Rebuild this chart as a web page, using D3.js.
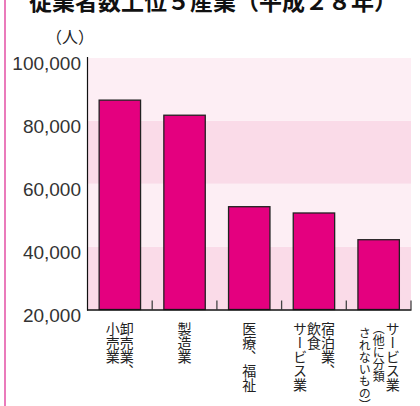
<!DOCTYPE html>
<html>
<head>
<meta charset="utf-8">
<script src="https://cdn.jsdelivr.net/npm/d3@7"></script>
<style>
  body { margin: 0; background: #fff; }
  svg { display: block; font-family: "Noto Sans CJK JP", "Noto Sans", sans-serif; }
</style>
</head>
<body>
<svg width="420" height="406"></svg>
<script>
// data
const categories = ['卸売業、小売業', '製造業', '医療、福祉', '宿泊業、飲食サービス業', 'サービス業（他に分類されないもの）'];
const values = [86600, 81800, 52700, 50700, 42200];
// vertical label columns, right to left
const labelColumns = [
    ['卸売業、', '小売業'],
    ['製造業'],
    ['医療、福祉'],
    ['宿泊業、', '飲食', 'サービス業'],
    ['サービス業', '（他に分類', 'されないもの）']
];
const tickValues = [20000, 40000, 60000, 80000, 100000];
const tickLabels = ['20,000', '40,000', '60,000', '80,000', '100,000'];

function whenLoaded(){
    const svg = d3.select('svg');
    const width = +svg.attr('width');
    const height = +svg.attr('height');

    const left = 87.5, right = 411, top = 58, bottom = 309.5;

    const yScale = d3.scaleLinear()
        .domain([20000, 100000])
        .range([bottom, top]);

    const slot = d3.scaleBand()
        .domain(categories)
        .range([left, right]);

    const xScale = d3.scaleBand()
        .domain(categories)
        .range([left, right])
        .paddingInner(0.36)
        .paddingOuter(0.18);

    // pink side rule
    svg.append('rect')
        .attr('x', 4).attr('y', 0)
        .attr('width', 2).attr('height', height)
        .attr('fill', '#ea7bbb');

    // title (cut off at top)
    svg.append('text')
        .attr('x', 213)
        .attr('y', 10)
        .attr('text-anchor', 'middle')
        .attr('font-size', 23)
        .attr('font-weight', 'bold')
        .attr('fill', '#111')
        .text('従業者数上位５産業（平成２８年）');

    svg.append('text')
        .attr('x', 70)
        .attr('y', 43)
        .attr('text-anchor', 'middle')
        .attr('font-size', 16)
        .attr('fill', '#222')
        .text('（人）');

    // background bands
    const bands = d3.pairs(tickValues);
    svg.append('g').selectAll('rect').data(bands)
        .enter().append('rect')
        .attr('x', left)
        .attr('width', right - left)
        .attr('y', d => yScale(d[1]))
        .attr('height', d => yScale(d[0]) - yScale(d[1]))
        .attr('fill', (d, i) => i % 2 === 0 ? '#fadbe8' : '#fdeef4');

    // y tick labels (sit a little below the lines)
    svg.append('g').selectAll('text').data(tickValues)
        .enter().append('text')
        .attr('x', 81)
        .attr('y', d => yScale(d) + 12)
        .attr('text-anchor', 'end')
        .attr('font-family', '"Liberation Sans", Arial, sans-serif')
        .attr('font-size', 19)
        .attr('fill', '#333')
        .text((d, i) => tickLabels[i]);

    // bars
    svg.append('g').selectAll('rect').data(values)
        .enter().append('rect')
        .attr('x', (d, i) => xScale(categories[i]))
        .attr('width', xScale.bandwidth())
        .attr('y', d => yScale(d))
        .attr('height', d => bottom - yScale(d))
        .attr('fill', '#e4007f')
        .attr('stroke', '#222')
        .attr('stroke-width', 1.3);

    // x ticks at slot boundaries
    svg.append('g').selectAll('line').data(categories)
        .enter().append('line')
        .attr('x1', d => slot(d) + slot.bandwidth())
        .attr('x2', d => slot(d) + slot.bandwidth())
        .attr('y1', bottom)
        .attr('y2', bottom - 9)
        .attr('stroke', '#444')
        .attr('stroke-width', 1.3);

    // axes
    svg.append('line')
        .attr('x1', left).attr('x2', left)
        .attr('y1', top - 1).attr('y2', bottom + 1)
        .attr('stroke', '#111').attr('stroke-width', 1.2);
    svg.append('line')
        .attr('x1', left - 0.5).attr('x2', right + 0.5)
        .attr('y1', bottom + 0.5).attr('y2', bottom + 0.5)
        .attr('stroke', '#111').attr('stroke-width', 1.6);

    // vertical category labels
    const colGap = 14;
    labelColumns.forEach((cols, i) => {
        const cx = slot(categories[i]) + slot.bandwidth() / 2;
        const n = cols.length;
        cols.forEach((txt, j) => {
            const x = cx + ((n - 1) / 2 - j) * colGap;
            const small = i === 4 && j > 0;
            svg.append('text')
                .attr('x', x)
                .attr('y', 322 + (i === 4 && j === 2 ? 5 : 0))
                .attr('font-size', small ? 12 : 14)
                .attr('fill', '#222')
                .style('writing-mode', 'vertical-rl')
                .text(txt);
        });
    });
}

window.onload = whenLoaded;
</script>
</body>
</html>
